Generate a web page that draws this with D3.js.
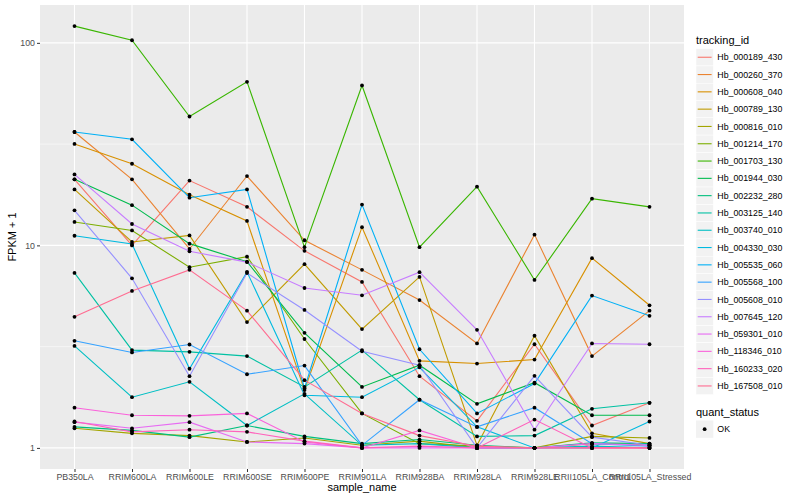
<!DOCTYPE html>
<html lang="en">
<head>
<meta charset="UTF-8">
<title>FPKM by sample</title>
<script src="https://d3js.org/d3.v7.min.js"></script>
<style>
    body { margin: 0; background: #ffffff; }
    svg { display: block; font-family: "Liberation Sans", Arial, sans-serif; }
</style>
</head>
<body>
<div id="chart"></div>
<script>
    // samples on the x axis
    const samples = ["PB350LA", "RRIM600LA", "RRIM600LE", "RRIM600SE", "RRIM600PE", "RRIM901LA",
        "RRIM928BA", "RRIM928LA", "RRIM928LE", "RRII105LA_Control", "RRII105LA_Stressed"];

    const trackingIds = ["Hb_000189_430", "Hb_000260_370", "Hb_000608_040", "Hb_000789_130", "Hb_000816_010",
        "Hb_001214_170", "Hb_001703_130", "Hb_001944_030", "Hb_002232_280", "Hb_003125_140",
        "Hb_003740_010", "Hb_004330_030", "Hb_005535_060", "Hb_005568_100", "Hb_005608_010",
        "Hb_007645_120", "Hb_059301_010", "Hb_118346_010", "Hb_160233_020", "Hb_167508_010"];

    // FPKM + 1, one row per tracking_id, in sample order
    const fpkm = [
        [21.2, 10.0, 20.9, 15.5, 9.4, 6.6, 2.26, 1.36, 3.25, 1.29, 1.67],
        [36.3, 21.2, 9.6, 22.0, 10.6, 7.57, 5.37, 3.28, 11.3, 2.84, 4.76],
        [31.7, 25.3, 17.8, 13.2, 1.93, 12.3, 2.69, 2.61, 2.73, 8.65, 5.06],
        [18.9, 10.4, 11.2, 4.18, 8.08, 3.86, 6.99, 1.03, 3.58, 1.18, 1.05],
        [1.25, 1.18, 1.15, 1.07, 1.12, 1.03, 1.08, 1.0, 1.0, 1.14, 1.12],
        [13.05, 11.85, 7.8, 8.8, 3.45, 1.48, 1.05, 1.02, 1.0, 1.05, 1.04],
        [121, 103, 43.3, 64.2, 9.8, 61.6, 9.8, 19.5, 6.75, 17.0, 15.5],
        [21.2, 15.8, 10.2, 8.3, 3.7, 2.0, 2.56, 1.65, 2.1, 1.45, 1.45],
        [1.27, 1.22, 1.13, 1.29, 1.14, 1.05, 1.1, 1.03, 1.0, 1.06, 1.05],
        [7.31, 3.04, 2.98, 2.84, 2.0, 3.04, 1.73, 1.14, 1.15, 1.56, 1.67],
        [3.19, 1.78, 2.12, 1.29, 1.85, 1.03, 1.05, 1.0, 1.0, 1.02, 1.0],
        [11.16, 10.15, 2.46, 7.4, 1.82, 1.78, 2.5, 1.27, 1.0, 1.0, 1.35],
        [36.3, 33.4, 17.2, 18.9, 1.97, 15.9, 3.07, 1.48, 2.08, 5.65, 4.49],
        [3.38, 2.96, 3.24, 2.31, 2.55, 1.03, 1.73, 1.27, 1.58, 1.05, 1.02],
        [14.9, 6.88, 2.26, 7.3, 4.8, 3.0, 2.56, 1.0, 2.27, 1.13, 1.03],
        [22.4, 12.75, 9.35, 8.27, 6.16, 5.67, 7.37, 3.83, 1.23, 3.28, 3.25],
        [1.34, 1.25, 1.34, 1.07, 1.05, 1.0, 1.0, 1.0, 1.0, 1.05, 1.03],
        [1.58, 1.45, 1.44, 1.48, 1.07, 1.0, 1.22, 1.0, 1.0, 1.0, 1.0],
        [1.35, 1.2, 1.23, 1.2, 1.08, 1.0, 1.02, 1.0, 1.38, 1.0, 1.0],
        [4.44, 5.96, 7.57, 4.76, 2.16, 1.48, 1.15, 1.02, 1.0, 1.0, 1.0]
    ];

    const yTicks = [1, 10, 100];
    const yMinorTicks = [Math.sqrt(10), Math.sqrt(1000)];

    // default ggplot hue palette for 20 levels
    const palette = ["#F8766D", "#EA8331", "#D89000", "#C09B00", "#A3A500", "#7CAE00", "#39B600", "#00BB4E",
        "#00BF7D", "#00C1A3", "#00BFC4", "#00BAE0", "#00B0F6", "#35A2FF", "#9590FF", "#C77CFF",
        "#E76BF3", "#FA62DB", "#FF62BC", "#FF6C91"];

    const width = 800, height = 500;
    const panel = { left: 40, right: 684, top: 5, bottom: 469 };

    const svg = d3.select("#chart").append("svg")
        .attr("width", width).attr("height", height);

    // log y with ggplot style 5% expansion
    const allVals = fpkm.flat();
    const lo = Math.log10(d3.min(allVals)), hi = Math.log10(d3.max(allVals));
    const pad = (hi - lo) * 0.05;
    const y = d3.scaleLog()
        .domain([Math.pow(10, lo - pad), Math.pow(10, hi + pad)])
        .range([panel.bottom, panel.top]);

    // discrete x with 0.6 unit expansion
    const x = d3.scalePoint()
        .domain(samples)
        .range([panel.left, panel.right])
        .padding(0.6);

    // panel background + grid
    svg.append("rect")
        .attr("x", panel.left).attr("y", panel.top)
        .attr("width", panel.right - panel.left).attr("height", panel.bottom - panel.top)
        .attr("fill", "#EBEBEB");

    svg.append("g").selectAll("line")
        .data(yMinorTicks)
        .join("line")
        .attr("x1", panel.left).attr("x2", panel.right)
        .attr("y1", d => y(d)).attr("y2", d => y(d))
        .attr("stroke", "#fff").attr("stroke-width", 0.55);

    svg.append("g").selectAll("line")
        .data(yTicks)
        .join("line")
        .attr("x1", panel.left).attr("x2", panel.right)
        .attr("y1", d => y(d)).attr("y2", d => y(d))
        .attr("stroke", "#fff").attr("stroke-width", 1.1);

    svg.append("g").selectAll("line")
        .data(samples)
        .join("line")
        .attr("x1", d => x(d)).attr("x2", d => x(d))
        .attr("y1", panel.top).attr("y2", panel.bottom)
        .attr("stroke", "#fff").attr("stroke-width", 1.1);

    // axes
    const yAxis = svg.append("g")
        .attr("transform", `translate(${panel.left},0)`)
        .call(d3.axisLeft(y).tickValues(yTicks).tickFormat(d3.format("d")).tickSizeOuter(0).tickSize(3).tickPadding(2));
    const xAxis = svg.append("g")
        .attr("transform", `translate(0,${panel.bottom})`)
        .call(d3.axisBottom(x).tickSizeOuter(0).tickSize(3).tickPadding(2));

    [yAxis, xAxis].forEach(ax => {
        ax.select(".domain").remove();
        ax.selectAll(".tick line").attr("stroke", "#333333").attr("stroke-width", 1);
        ax.selectAll(".tick text").attr("fill", "#4D4D4D").style("font-size", "8.8px")
            .style("font-family", "'Liberation Sans', Arial, sans-serif");
    });

    // series lines
    const line = d3.line()
        .x((d, i) => x(samples[i]))
        .y(d => y(d));

    svg.append("g").selectAll("path")
        .data(fpkm)
        .join("path")
        .attr("d", line)
        .attr("fill", "none")
        .attr("stroke", (d, i) => palette[i])
        .attr("stroke-width", 1.1);

    // points (quant_status OK)
    const pts = [];
    fpkm.forEach(row => row.forEach((v, i) => pts.push({ s: samples[i], v: v })));
    svg.append("g").selectAll("circle")
        .data(pts)
        .join("circle")
        .attr("cx", d => x(d.s))
        .attr("cy", d => y(d.v))
        .attr("r", 1.9)
        .attr("fill", "#000");

    // axis titles
    svg.append("text")
        .attr("x", (panel.left + panel.right) / 2).attr("y", 491)
        .attr("text-anchor", "middle")
        .style("font-size", "11px")
        .text("sample_name");

    svg.append("text")
        .attr("transform", `translate(16,${(panel.top + panel.bottom) / 2}) rotate(-90)`)
        .attr("text-anchor", "middle")
        .style("font-size", "11px")
        .text("FPKM + 1");

    // legend: tracking_id
    const legX = 696, keySize = 17.3, legTop = 48.6;
    svg.append("text")
        .attr("x", legX).attr("y", 44)
        .style("font-size", "11px")
        .text("tracking_id");

    const leg = svg.append("g").selectAll("g")
        .data(trackingIds)
        .join("g")
        .attr("transform", (d, i) => `translate(${legX},${legTop + i * keySize})`);
    leg.append("rect")
        .attr("width", keySize).attr("height", keySize)
        .attr("fill", "#F2F2F2").attr("stroke", "#fff").attr("stroke-width", 0.5);
    leg.append("line")
        .attr("x1", 1.7).attr("x2", keySize - 1.7)
        .attr("y1", keySize / 2).attr("y2", keySize / 2)
        .attr("stroke", (d, i) => palette[i]).attr("stroke-width", 1.1);
    leg.append("text")
        .attr("x", keySize + 4).attr("y", keySize / 2 + 3.1)
        .style("font-size", "8.8px")
        .text(d => d);

    // legend: quant_status
    svg.append("text")
        .attr("x", legX).attr("y", 416)
        .style("font-size", "11px")
        .text("quant_status");
    const qs = svg.append("g").attr("transform", `translate(${legX},420.5)`);
    qs.append("rect")
        .attr("width", keySize).attr("height", keySize)
        .attr("fill", "#F2F2F2");
    qs.append("circle")
        .attr("cx", keySize / 2).attr("cy", keySize / 2).attr("r", 1.9).attr("fill", "#000");
    qs.append("text")
        .attr("x", keySize + 4).attr("y", keySize / 2 + 3.1)
        .style("font-size", "8.8px")
        .text("OK");
</script>
</body>
</html>
